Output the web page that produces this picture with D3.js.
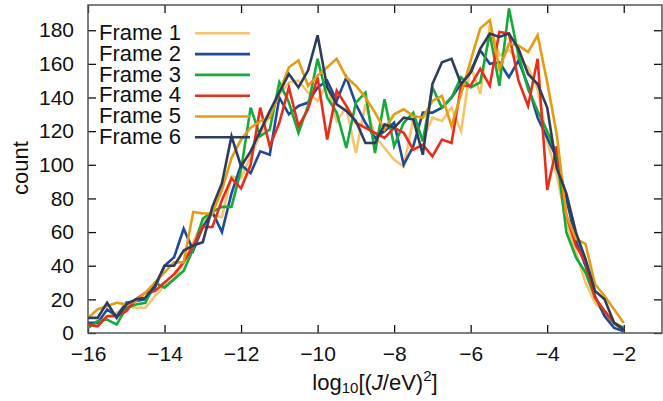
<!doctype html>
<html>
<head>
<meta charset="utf-8">
<script src="https://cdnjs.cloudflare.com/ajax/libs/d3/7.8.5/d3.min.js"></script>
<style>
  body { margin: 0; background: #fff; }
  svg { font-family: "Liberation Sans", Arial, sans-serif; }
  .tick text { font-size: 21px; fill: #111; }
  .frame-line { fill: none; stroke-width: 2.6; stroke-linejoin: miter; }
  .legend text { font-size: 22px; fill: #111; }
</style>
</head>
<body>
<div id="chart"></div>
<script>
  // bin centres, log10[(J/eV)^2]
  var bins = [-16, -15.75, -15.5, -15.25, -15, -14.75, -14.5, -14.25, -14, -13.75,
              -13.5, -13.25, -13, -12.75, -12.5, -12.25, -12, -11.75, -11.5, -11.25,
              -11, -10.75, -10.5, -10.25, -10, -9.75, -9.5, -9.25, -9, -8.75,
              -8.5, -8.25, -8, -7.75, -7.5, -7.25, -7, -6.75, -6.5, -6.25,
              -6, -5.75, -5.5, -5.25, -5, -4.75, -4.5, -4.25, -4, -3.75,
              -3.5, -3.25, -3, -2.75, -2.5, -2.25, -2];

  var frameNames = ["Frame 1", "Frame 2", "Frame 3", "Frame 4", "Frame 5", "Frame 6"];
  var frameColors = ["#f7c46c", "#1f4a9a", "#14aa3c", "#e82d1a", "#e59c13", "#2e3d5a"];

  var frame1 = [5,7,10,12,16,15,15,22,28,32, 42,54,66,70,69,93,92,105,118,130,
                142,149,150,143,138,148,126,134,107,136, 117,110,103,99,127,115,128,126,134,120,
                159,142,183,165,168,163,158,145,114,94, 66,48,30,18,12,5,2];
  var frame2 = [6,6,14,10,18,19,20,27,40,45, 62,49,63,72,60,83,100,95,108,106,
                140,130,135,137,146,150,138,152,136,125, 116,120,125,100,111,131,131,134,140,148,
                155,168,160,161,152,162,147,128,116,104, 80,55,40,22,10,3,1];
  var frame3 = [3,7,8,5,15,17,18,30,27,32, 37,50,68,72,75,75,97,134,117,121,
                149,137,119,135,163,140,131,110,137,143, 107,139,111,125,131,114,146,134,140,152,
                146,149,178,147,193,165,145,132,120,106, 60,45,36,21,13,6,3];
  var frame4 = [5,4,10,10,13,20,24,25,30,35, 42,52,63,63,79,92,86,100,134,111,
                125,146,123,133,152,115,144,135,125,122, 119,116,122,119,109,112,105,115,113,147,
                147,157,147,179,178,150,135,163,85,111, 70,52,42,21,13,6,2];
  var frame5 = [9,14,16,18,17,19,24,30,36,42, 42,72,71,71,85,104,115,122,126,128,
                143,158,162,147,153,158,163,152,147,140, 131,121,130,133,129,128,138,141,123,142,
                162,181,186,157,172,171,167,177,149,118, 70,56,53,29,22,14,6];
  var frame6 = [9,9,18,9,17,20,21,28,40,40, 49,52,54,75,89,117,99,108,120,132,
                143,154,146,156,177,146,136,132,126,113, 113,124,122,128,127,106,148,161,163,148,
                155,169,178,176,178,169,154,148,134,98, 83,60,44,25,20,6,2];

  var xTicks = [-16, -14, -12, -10, -8, -6, -4, -2];
  var yTicks = [0, 20, 40, 60, 80, 100, 120, 140, 160, 180];

  var series = [frame1, frame2, frame3, frame4, frame5, frame6];

  var W = 663, H = 401;
  var margin = {left: 88, right: 1, top: 5, bottom: 68};
  var iw = W - margin.left - margin.right;
  var ih = H - margin.top - margin.bottom;

  var svg = d3.select("#chart").append("svg")
      .attr("width", W)
      .attr("height", H);

  var x = d3.scaleLinear().domain([-16, -1]).range([0, iw]);
  var y = d3.scaleLinear().domain([0, 195]).range([ih, 0]);

  var g = svg.append("g")
      .attr("transform", "translate(" + margin.left + "," + margin.top + ")");

  g.append("clipPath").attr("id", "clip")
    .append("rect").attr("width", iw).attr("height", ih);

  // axes: gnuplot style, ticks pointing inwards and mirrored
  var fmt = function(d) { return d < 0 ? "\u2212" + Math.abs(d) : d; };

  var xAxis = g.append("g")
      .attr("transform", "translate(0," + ih + ")")
      .call(d3.axisBottom(x).tickValues(xTicks).tickFormat(fmt).tickSizeInner(-8).tickSizeOuter(0).tickPadding(13));
  var xTop = g.append("g")
      .call(d3.axisTop(x).tickValues(xTicks).tickFormat("").tickSizeInner(-8).tickSizeOuter(0));
  var yAxis = g.append("g")
      .call(d3.axisLeft(y).tickValues(yTicks).tickSizeInner(-8).tickSizeOuter(0).tickPadding(14));
  var yRight = g.append("g")
      .attr("transform", "translate(" + iw + ",0)")
      .call(d3.axisRight(y).tickValues(yTicks).tickFormat("").tickSizeInner(-8).tickSizeOuter(0));

  [xAxis, xTop, yAxis, yRight].forEach(function(a) {
    a.select(".domain").remove();
    a.selectAll(".tick line").attr("stroke", "#111").attr("stroke-width", 1.3);
  });

  g.append("rect")
      .attr("width", iw).attr("height", ih)
      .attr("fill", "none")
      .attr("stroke", "#555")
      .attr("stroke-width", 1.5);

  var line = d3.line()
      .x(function(d, i) { return x(bins[i]); })
      .y(function(d) { return y(d); });

  var plot = g.append("g").attr("clip-path", "url(#clip)");

  // legend
  var legend = g.append("g").attr("class", "legend");
  series.forEach(function(vals, k) {
    var ly = 28.3 + k * 20.8;
    legend.append("text")
        .attr("x", 11)
        .attr("y", ly)
        .attr("dy", "0.3em")
        .text(frameNames[k]);
    legend.append("line")
        .attr("x1", 107).attr("x2", 162)
        .attr("y1", ly).attr("y2", ly)
        .attr("stroke", frameColors[k])
        .attr("stroke-width", 2.6);
  });

  series.forEach(function(vals, k) {
    plot.append("path")
        .datum(vals)
        .attr("class", "frame-line")
        .attr("stroke", frameColors[k])
        .attr("d", line);
  });

  // axis titles
  var xl = svg.append("text")
      .attr("x", 375)
      .attr("y", 390)
      .attr("text-anchor", "middle")
      .style("font-size", "22px")
      .attr("fill", "#111");
  xl.append("tspan").text("log");
  xl.append("tspan").attr("font-size", "15px").attr("dy", 3).text("10");
  xl.append("tspan").attr("dy", -3).text("[(");
  xl.append("tspan").attr("font-style", "italic").text("J");
  xl.append("tspan").text("/eV)");
  xl.append("tspan").attr("font-size", "15px").attr("dy", -9).text("2");
  xl.append("tspan").attr("dy", 9).text("]");

  svg.append("text")
      .attr("transform", "translate(28,168) rotate(-90)")
      .attr("text-anchor", "middle")
      .style("font-size", "22px")
      .attr("fill", "#111")
      .text("count");
</script>
</body>
</html>
